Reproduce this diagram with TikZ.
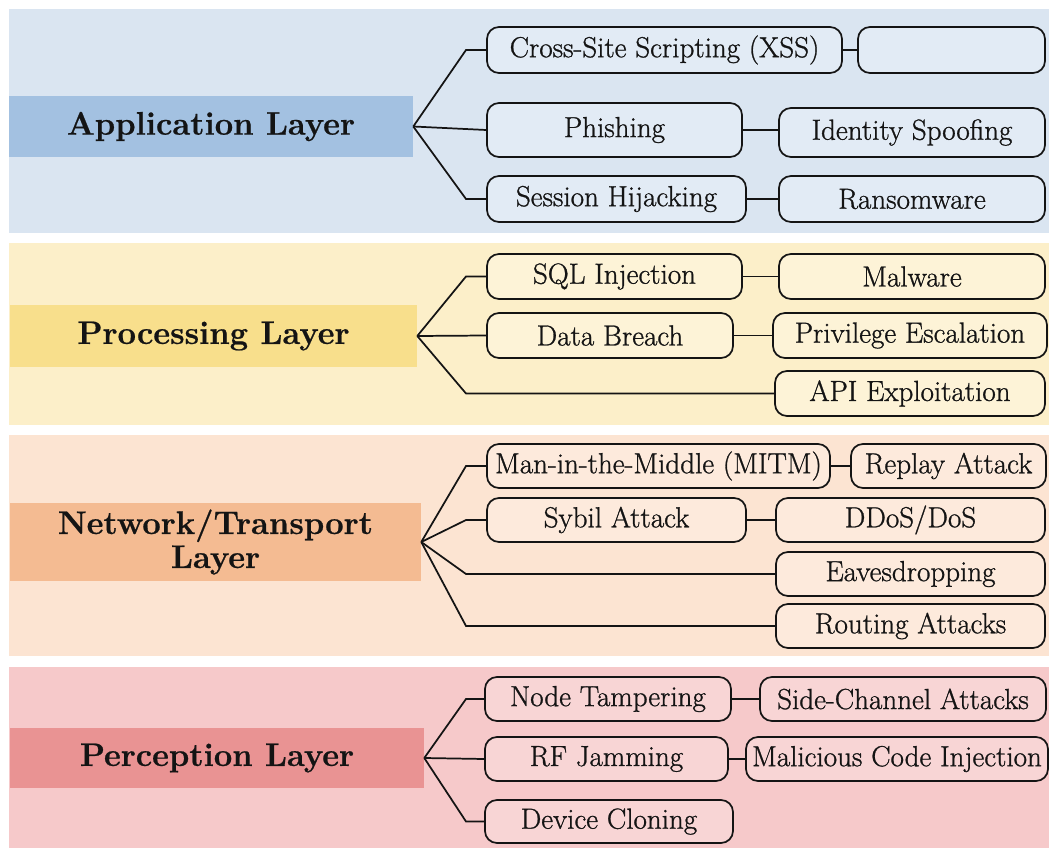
\documentclass[tikz,border=0pt]{standalone}
\usepackage{fontspec}
\newfontfamily\boxfont{Latin Modern Roman}[FakeBold=0.9]
\newfontfamily\titlefont{Latin Modern Roman}[BoldFeatures={FakeBold=0.6}]
\usepackage{xcolor}
\definecolor{bandA}{HTML}{DAE5F1}
\definecolor{bandP}{HTML}{FCEFC9}
\definecolor{bandN}{HTML}{FCE4D2}
\definecolor{bandR}{HTML}{F6C9CA}
\definecolor{barA}{HTML}{A3C1E1}
\definecolor{barP}{HTML}{F8DF8C}
\definecolor{barN}{HTML}{F4BB92}
\definecolor{barR}{HTML}{E99393}
\definecolor{boxA}{HTML}{E2EBF5}
\definecolor{boxP}{HTML}{FDF3D7}
\definecolor{boxN}{HTML}{FDEADC}
\definecolor{boxR}{HTML}{F8D5D5}
\definecolor{ink}{HTML}{141414}
\newcommand\attbox[7]{%
  \node[abox, fill=#6, minimum width={(#3-#2)*0.75pt}, minimum height={(#5-#4)*0.75pt}] (#1) at ({(#2+#3)/2},{(#4+#5)/2}) {#7};}
\newcommand\layerbar[7]{%
  \node[lbar, fill=#6, minimum width={(#3-#2)*0.75pt}, minimum height={(#5-#4)*0.75pt}] (#1) at ({(#2+#3)/2},{(#4+#5)/2}) {#7};}
\begin{document}
\begin{tikzpicture}[x=0.75pt,y=-0.75pt,
  abox/.style={draw=ink, line width=1.3pt, rounded corners=9pt, inner sep=0pt, text=ink,
    font=\boxfont\fontsize{21.8}{24}\selectfont},
  lbar/.style={inner sep=0pt, text=ink, align=center, font=\titlefont\fontsize{24.5}{25.5}\selectfont\bfseries},
  conn/.style={draw=ink, line width=1.3pt}]
\useasboundingbox (0,0) rectangle (1049,848);
% bands
\fill[bandA] (9,9) rectangle (1049,233);
\fill[bandP] (9,243) rectangle (1049,425);
\fill[bandN] (9,435) rectangle (1049,656);
\fill[bandR] (9,667) rectangle (1049,848);
% layer bars
\layerbar{tA}{9}{413}{96}{157}{barA}{Application Layer}
\layerbar{tP}{10}{417}{305}{367}{barP}{Processing Layer}
\layerbar{tN}{10}{421}{503}{581}{barN}{Network/Transport\\Layer}
\layerbar{tR}{10}{424}{728}{788}{barR}{Perception Layer}
\coordinate (j) at (466,0);
% Application
\attbox{xss}{487}{842}{27}{73}{boxA}{Cross-Site Scripting (XSS)}
\attbox{empty}{858}{1045}{27}{73}{boxA}{}
\attbox{phish}{487}{742}{103}{157}{boxA}{Phishing}
\attbox{ident}{779}{1045}{108}{157}{boxA}{Identity Spoofing}
\attbox{sess}{487}{746}{176}{222}{boxA}{Session Hijacking}
\attbox{rans}{779}{1045}{176}{222}{boxA}{Ransomware}
% Processing
\attbox{sql}{487}{742}{254}{299}{boxP}{SQL Injection}
\attbox{malw}{779}{1045}{254}{299}{boxP}{Malware}
\attbox{breach}{487}{733}{313}{358}{boxP}{Data Breach}
\attbox{priv}{773}{1047}{313}{358}{boxP}{Privilege Escalation}
\attbox{api}{775}{1045}{371}{416}{boxP}{API Exploitation}
% Network
\attbox{mitm}{487}{830}{444}{488}{boxN}{Man-in-the-Middle (MITM)}
\attbox{replay}{851}{1046}{444}{488}{boxN}{Replay Attack}
\attbox{sybil}{487}{746}{498}{542}{boxN}{Sybil Attack}
\attbox{ddos}{776}{1045}{498}{542}{boxN}{DDoS/DoS}
\attbox{eaves}{776}{1045}{552}{596}{boxN}{Eavesdropping}
\attbox{rout}{776}{1045}{604}{648}{boxN}{Routing Attacks}
% Perception
\attbox{tamp}{485}{731}{677}{721}{boxR}{Node Tampering}
\attbox{side}{760}{1046}{677}{721}{boxR}{Side-Channel Attacks}
\attbox{rf}{485}{728}{737}{781}{boxR}{RF Jamming}
\attbox{mal}{746}{1048}{737}{781}{boxR}{Malicious Code Injection}
\attbox{clone}{485}{733}{800}{843}{boxR}{Device Cloning}
% connectors Application
\draw[conn] (tA.east) -- (xss.west -| j) -- (xss.west);
\draw[conn] (tA.east) -- (phish.west);
\draw[conn] (tA.east) -- (sess.west -| j) -- (sess.west);
\draw[conn] (xss.east) -- (empty.west);
\draw[conn] (phish.east) -- (phish.east -| ident.west);
\draw[conn] (sess.east) -- (rans.west);
% Processing
\draw[conn] (tP.east) -- (sql.west -| j) -- (sql.west);
\draw[conn] (tP.east) -- (breach.west);
\draw[conn] (tP.east) -- (api.west -| j) -- (api.west);
\draw[conn] (sql.east) -- (malw.west);
\draw[conn] (breach.east) -- (priv.west);
% Network
\draw[conn] (tN.east) -- (mitm.west -| j) -- (mitm.west);
\draw[conn] (tN.east) -- (sybil.west -| j) -- (sybil.west);
\draw[conn] (tN.east) -- (eaves.west -| j) -- (eaves.west);
\draw[conn] (tN.east) -- (rout.west -| j) -- (rout.west);
\draw[conn] (mitm.east) -- (replay.west);
\draw[conn] (sybil.east) -- (ddos.west);
% Perception
\draw[conn] (tR.east) -- (tamp.west -| j) -- (tamp.west);
\draw[conn] (tR.east) -- (rf.west);
\draw[conn] (tR.east) -- (clone.west -| j) -- (clone.west);
\draw[conn] (tamp.east) -- (side.west);
\draw[conn] (rf.east) -- (mal.west);
\end{tikzpicture}
\end{document}
